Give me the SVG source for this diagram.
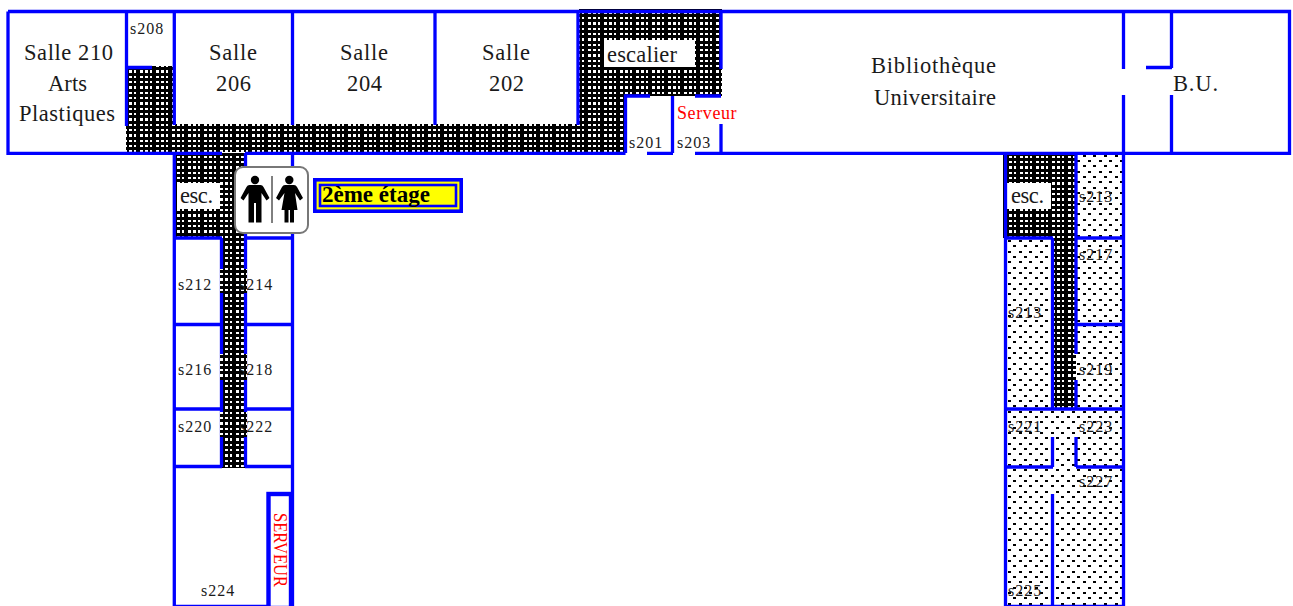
<svg xmlns="http://www.w3.org/2000/svg" width="1293" height="606" viewBox="0 0 1293 606">
<style>
text{font-family:"Liberation Serif","Times New Roman",serif;fill:#1a1a1a}
.l{font-size:22.5px}
.s{font-size:16px;letter-spacing:1px}
.w{stroke:#00f;stroke-width:3.3;fill:none}
.dk{fill:url(#dark);shape-rendering:crispEdges}
.dt{fill:url(#dots);shape-rendering:crispEdges}
</style>
<defs>
<pattern id="dark" width="16" height="16" patternUnits="userSpaceOnUse">
<rect width="16" height="16" fill="#000" shape-rendering="crispEdges"/>
<path fill="#fff" shape-rendering="crispEdges" d="M1 1h3v2h-3zM6 1h2v2h-2zM12 1h3v2h-3zM1 6h3v3h-3zM6 6h2v3h-2zM12 6h3v3h-3zM1 12h3v2h-3zM6 12h2v2h-2zM12 12h3v2h-3z"/>
</pattern>
<pattern id="dots" width="32" height="32" patternUnits="userSpaceOnUse">
<rect width="32" height="32" fill="#fff" shape-rendering="crispEdges"/>
<path fill="#000" shape-rendering="crispEdges" d="M0 0h3v2h-3zM11 0h3v2h-3zM21 0h3v2h-3zM5 5h3v2h-3zM16 5h3v2h-3zM27 5h3v2h-3zM0 11h3v2h-3zM11 11h3v2h-3zM21 11h3v2h-3zM5 16h3v2h-3zM16 16h3v2h-3zM27 16h3v2h-3zM0 21h3v2h-3zM11 21h3v2h-3zM21 21h3v2h-3zM5 27h3v2h-3zM16 27h3v2h-3zM27 27h3v2h-3z"/>
</pattern>
</defs>
<rect width="1293" height="606" fill="#fff"/>
<g id="hatching">
<rect class="dt" x="1005" y="153" width="119" height="453"/>
<path class="dk" d="M127 66H174V124H579V9H722V96H626V152H126Z"/>
<rect class="dk" x="175" y="155" width="47" height="83"/>
<rect class="dk" x="222" y="153" width="23" height="315"/>
<rect class="dk" x="1003" y="155" width="50" height="83"/>
<rect class="dk" x="1053" y="153" width="23" height="255"/>
<rect x="604" y="40" width="91" height="27" fill="#fff"/>
<rect x="177" y="183" width="43" height="26" fill="#fff"/>
<rect x="1007" y="183" width="44" height="26" fill="#fff"/>
</g>
<g id="walls">
<path class="w" d="M8 11.500H1289.500V153.300H695M673 153.300H647M625.500 153.300H245M222 153.300H8V11.500"/>
<path class="w" d="M126.500 11V126M126.500 67.500H152M174.300 11V125M292.500 11V125M435 11V125M578 11V125M721 11V69M721 124V153"/>
<path class="w" d="M650 96H625.500V153M672.500 96V153M695 96H721"/>
<path class="w" d="M1123.500 11V69M1123.500 95V606M1171.500 11V68M1171.500 95V153M1146 67.500H1172"/>
<path class="w" d="M174.300 153V607M292.500 153V607M174 606.500H292M221.500 238V467M245.500 153V467M174 238H222M245 238H292M174 324.500H222M245 324.500H292M174 409H222M245 409H292M174 466.500H222M245 466.500H292"/>
<path class="w" d="M1005.500 153V607M1005 606.500H1124M1052.500 238V408M1076 153V354M1076 380V408M1005 238H1053M1076 238H1124M1076 324.500H1124M1005 409H1124M1005 467H1053M1076 467H1124M1052.500 437V467M1076 437V467M1052.500 494V606"/>
<rect x="268.500" y="494" width="22.500" height="114" fill="#fff" stroke="#00f" stroke-width="4.400"/>
</g>
<g id="bulges">
<rect class="dk" x="220" y="269" width="27" height="24"/>
<rect class="dk" x="220" y="354" width="27" height="26"/>
<rect class="dk" x="220" y="412" width="27" height="25"/>
</g>
<g id="legend">
<rect x="314.800" y="179.800" width="146.400" height="31.400" fill="#ff0" stroke="#00f" stroke-width="3.600"/>
<rect x="320" y="185" width="136" height="21" fill="#ff0" stroke="#00f" stroke-width="2.600"/>
<text x="322" y="202" font-size="23" font-weight="bold" style="fill:#000">2ème étage</text>
</g>
<g id="toilets">
<rect x="235" y="167" width="73" height="66" rx="8" fill="#fff" stroke="#777" stroke-width="2"/>
<path d="M272 176V223" stroke="#000" stroke-width="1"/>
<circle cx="255" cy="180" r="4.200"/><circle cx="289.300" cy="180" r="4.200"/>
<path d="M249.500 185H260.500Q262.500 185 263.500 187L269.500 198 266.500 200.500 261.500 193V222.500H256V203H254V222.500H248.500V193L243.500 200.500 240.500 198 246.500 187Q247.500 185 249.500 185Z"/>
<path d="M285 185H294Q296 185 297 187L303 198 300 200.500 295 193 297.500 210H294V222.500H290V210H288.500V222.500H284.500V210H281.500L284.500 193 279 200.500 276 198 282 187Q283 185 285 185Z"/>
</g>
<g id="labels">
<text class="l" x="24" y="60" textLength="89">Salle 210</text>
<text class="l" x="48" y="91" textLength="39">Arts</text>
<text class="l" x="19" y="121" textLength="96">Plastiques</text>
<text class="l" x="209" y="60" textLength="48">Salle</text>
<text class="l" x="216" y="91" textLength="35">206</text>
<text class="l" x="340" y="60" textLength="48">Salle</text>
<text class="l" x="347" y="91" textLength="35">204</text>
<text class="l" x="482" y="60" textLength="48">Salle</text>
<text class="l" x="489" y="91" textLength="35">202</text>
<text class="l" x="871" y="73" textLength="125">Bibliothèque</text>
<text class="l" x="874" y="105" textLength="122">Universitaire</text>
<text class="l" x="1173" y="91" textLength="45">B.U.</text>
<text class="l" x="607" y="62" textLength="70">escalier</text>
<text class="l" x="180" y="203" textLength="33">esc.</text>
<text class="l" x="1011" y="203" textLength="33">esc.</text>
<text x="677" y="119" font-size="18" letter-spacing=".6" style="fill:#f00">Serveur</text>
<text class="s" x="130" y="34">s208</text>
<text class="s" x="629" y="148">s201</text>
<text class="s" x="677" y="148">s203</text>
<text class="s" x="178" y="290">s212</text>
<text class="s" x="239" y="290">s214</text>
<text class="s" x="178" y="375">s216</text>
<text class="s" x="239" y="375">s218</text>
<text class="s" x="178" y="432">s220</text>
<text class="s" x="239" y="432">s222</text>
<text class="s" x="201" y="596">s224</text>
<text class="s" x="1079" y="202">s213</text>
<text class="s" x="1079" y="260">s217</text>
<text class="s" x="1008" y="318">s213</text>
<text class="s" x="1079" y="375">s219</text>
<text class="s" x="1008" y="432">s221</text>
<text class="s" x="1079" y="432">s223</text>
<text class="s" x="1079" y="487">s227</text>
<text class="s" x="1008" y="596">s225</text>
<text x="274" y="513" transform="rotate(90 274 513)" font-size="18" textLength="74" lengthAdjust="spacingAndGlyphs" style="fill:#f00">SERVEUR</text>
</g>
</svg>
